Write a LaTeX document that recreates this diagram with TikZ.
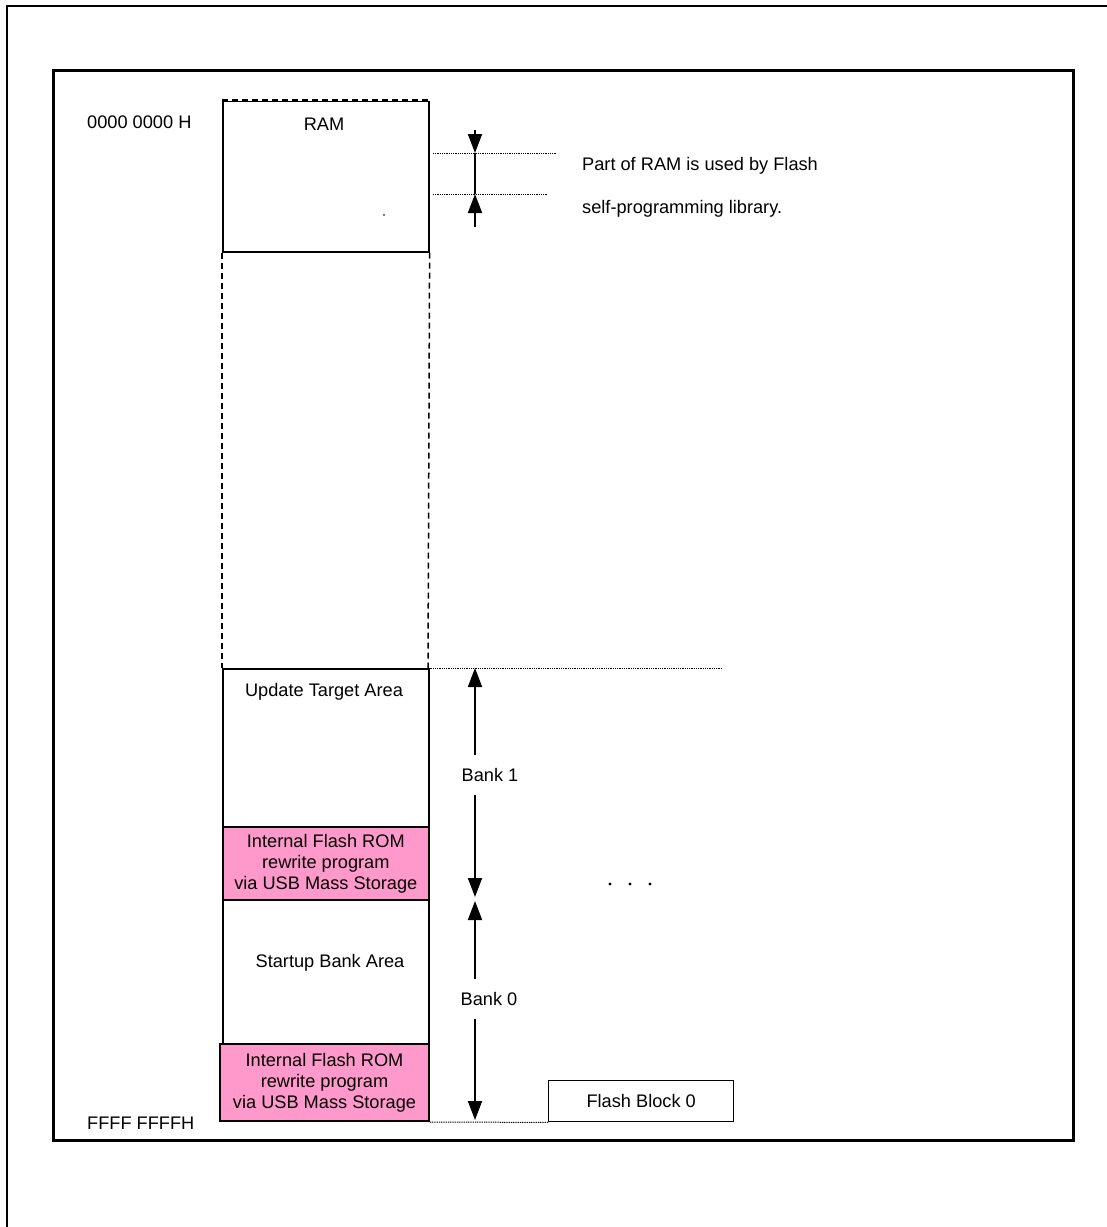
\documentclass[tikz,border=0pt]{standalone}
\usepackage{fontspec}
\setmainfont{Liberation Sans}
\usetikzlibrary{arrows.meta}
\definecolor{pinkfill}{HTML}{FF99CC}
\begin{document}
\begin{tikzpicture}[x=1pt,y=-1pt,
  font=\fontsize{18.2}{21}\selectfont,
  box/.style={draw, line width=1.6pt, inner sep=0pt, minimum width=206pt, anchor=north west, align=center},
  pinkbox/.style={box, fill=pinkfill},
  txt/.style={inner sep=0pt},
  dashl/.style={line width=1.5pt, dash pattern=on 6pt off 4pt},
  dotl/.style={line width=1pt, dash pattern=on 1pt off 0.8pt},
  tri/.style={line width=1.8pt, -{Triangle[length=19pt,width=14pt]}},
  bitri/.style={line width=1.8pt, {Triangle[length=19pt,width=14pt]}-{Triangle[length=19pt,width=14pt]}},
  banklbl/.style={fill=white, inner xsep=1pt, inner ysep=13pt}]
\useasboundingbox (0,0) rectangle (1107,1227);
% outer frame (top and left)
\draw[line width=1.5pt] (7,1227) -- (7,6) -- (1107,6);
% inner frame
\draw[line width=3pt] (53,70) rectangle (1073,1140);

% memory column
\node[box, minimum height=151pt] (ram) at (222,100) {};
\draw[white, line width=2.2pt] (ram.north west) -- (ram.north east);
\draw[dashl] (ram.north west) -- (ram.north east);
\coordinate (colL) at (222,668);
\coordinate (colR) at (428,668);
\draw[dashl] (ram.south west) -- (colL);
\draw[dashl] (ram.south east) -- (colR);
\node[box, minimum height=158pt] (uta) at (222,668) {};
\node[pinkbox, minimum height=73pt] (rw1) at (222,826) {Internal Flash ROM\\rewrite program\\via USB Mass Storage};
\node[box, minimum height=144pt] (sba) at (222,899) {};
\node[pinkbox, minimum width=209pt, minimum height=77pt, line width=2pt] (rw2) at (219,1043) {Internal Flash ROM\\rewrite program\\via USB Mass Storage};

% labels in column
\node[txt] (ramt) at (324,124) {RAM};
\node[txt] (utat) at (324,692) {Update Target Area};
\node[txt] (sbat) at (330,963) {Startup Bank Area};
\fill (384,215) circle (0.8pt);

% address labels
\node[txt, anchor=west] (a0) at (87,122) {0000 0000 H};
\node[txt, anchor=west] (af) at (87,1123) {FFFF FFFFH};

% RAM part arrows
\coordinate (d1a) at (433,153); \coordinate (d1b) at (556,153);
\coordinate (d2a) at (433,194); \coordinate (d2b) at (547,194);
\draw[dotl] (d1a) -- (d1b);
\draw[dotl] (d2a) -- (d2b);
\coordinate (r1) at (475,153);
\coordinate (r2) at (475,194);
\coordinate (r0) at (475,130);
\coordinate (r3) at (475,227);
\draw[tri] (r0) -- (r1);
\draw[line width=1.8pt] (r1) -- (r2);
\draw[tri] (r3) -- (r2);
\node[txt, anchor=west] (p1) at (582,166) {Part of RAM is used by Flash};
\node[txt, anchor=west] (p2) at (582,209) {self-programming library.};

% bank arrows
\coordinate (lineEnd) at (722,668);
\draw[dotl] (uta.north east) -- (lineEnd);
\coordinate (b1t) at (475,668);
\coordinate (b1b) at (475,897);
\coordinate (b0t) at (475,901);
\coordinate (b0b) at (475,1120);
\draw[bitri] (b1t) -- (b1b);
\draw[bitri] (b0t) -- (b0b);
\node[banklbl] (bank1) at (490,775) {Bank 1};
\node[banklbl] (bank0) at (489,999) {Bank 0};

% flash block 0
\node[box, minimum width=185pt, minimum height=41pt, line width=1.4pt] (fb) at (548,1080) {Flash Block 0};
\draw[dotl] (rw2.south east) -- (fb.south west);

% ellipsis dots
\foreach \x in {610,630,650} \fill (\x,884) circle (1.6pt);
\end{tikzpicture}
\end{document}
